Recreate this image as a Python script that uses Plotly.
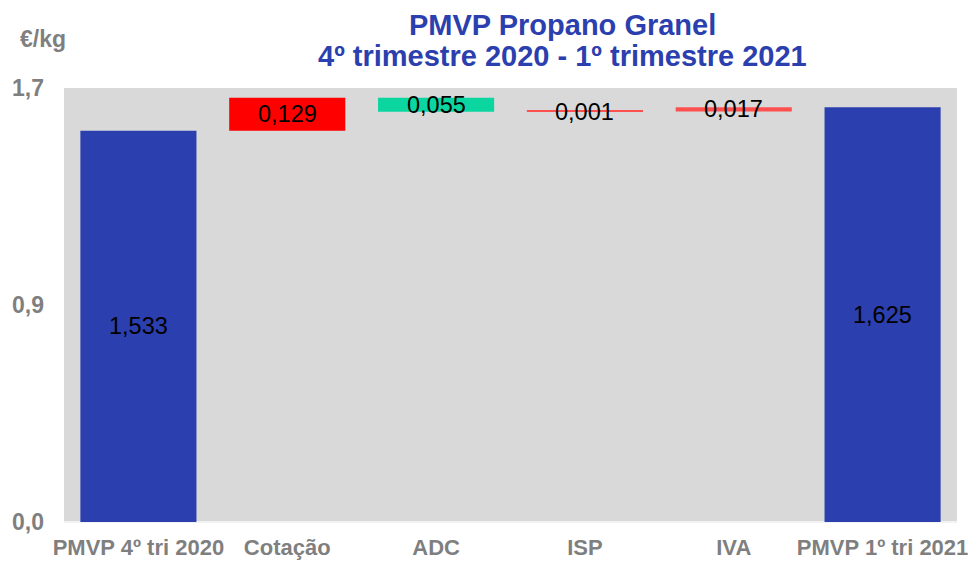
import plotly.graph_objects as go

categories = ["PMVP 4º tri 2020", "Cotação", "ADC", "ISP", "IVA", "PMVP 1º tri 2021"]
start_value = 1.533
changes = [0.129, -0.055, 0.001, 0.017]
end_value = 1.625
labels = ["1,533", "0,129", "0,055", "0,001", "0,017", "1,625"]
colors = ["#2b3fae", "#ff0000", "#0bd69f", "#ff5050", "#ff5050", "#2b3fae"]
ytick_vals = [0, 0.85, 1.7]
ytick_text = ["0,0", "0,9", "1,7"]

bases, heights = [0], [start_value]
level = start_value
for c in changes:
    if c >= 0:
        bases.append(level); heights.append(c)
    else:
        bases.append(level + c); heights.append(-c)
    level += c
bases.append(0); heights.append(end_value)

# thin bars get a minimal visible height
disp_heights = [max(h, 0.004) for h in heights]

FONT = "Liberation Sans, Arial"
fig = go.Figure()
fig.add_trace(go.Bar(
    x=categories, y=disp_heights, base=bases,
    marker=dict(color=colors, line=dict(width=0)),
    width=0.78, hoverinfo="skip",
))

for cat, b, h, t in zip(categories, bases, heights, labels):
    fig.add_annotation(x=cat, y=b + h / 2, text=t, showarrow=False,
                       font=dict(family=FONT, size=23.5, color="#000000"))

fig.add_annotation(xref="paper", yref="paper", x=0.5577, y=1.145,
                   xanchor="center", yanchor="middle",
                   text="<b>PMVP Propano Granel</b>", showarrow=False,
                   font=dict(family=FONT, size=29, color="#2b3fae"))
fig.add_annotation(xref="paper", yref="paper", x=0.5577, y=1.073,
                   xanchor="center", yanchor="middle",
                   text="<b>4º trimestre 2020 - 1º trimestre 2021</b>", showarrow=False,
                   font=dict(family=FONT, size=29, color="#2b3fae"))
fig.add_annotation(xref="paper", yref="paper", x=-0.0235, y=1.113,
                   xanchor="center", yanchor="middle",
                   text="<b>€/kg</b>", showarrow=False,
                   font=dict(family=FONT, size=23, color="#7f7f7f"))

fig.update_layout(
    width=976, height=563,
    margin=dict(l=56, r=27, t=80, b=49),
    paper_bgcolor="white", plot_bgcolor="#d9d9d9",
    showlegend=False,
    font=dict(family=FONT),
)
fig.update_xaxes(showgrid=False, tickfont=dict(size=22, color="#7f7f7f", family=FONT),
                 tickprefix="<b>", ticksuffix="</b>", ticks="", showline=False,
                 ticklabelstandoff=10, automargin=False)
fig.update_yaxes(range=[0, 1.7], tickvals=ytick_vals, ticktext=["<b>%s</b>" % t for t in ytick_text],
                 showgrid=False, zeroline=True, zerolinecolor="#f2f2f2", zerolinewidth=2,
                 tickfont=dict(size=23, color="#7f7f7f", family=FONT),
                 ticks="", ticklabelstandoff=19, automargin=False)

fig.write_html("out.html")
